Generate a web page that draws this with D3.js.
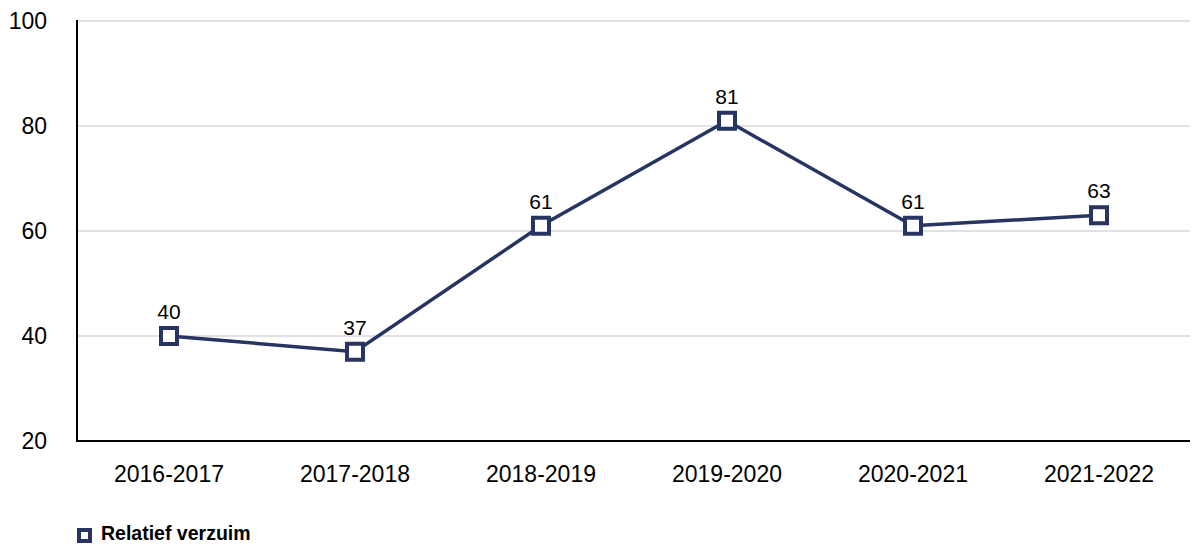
<!DOCTYPE html>
<html><head><meta charset="utf-8">
<script src="https://cdn.jsdelivr.net/npm/d3@7"></script>
<style>body{margin:0;background:#fff}svg{display:block;font-family:"Liberation Sans",Arial,sans-serif}</style>
</head><body><svg id="c" width="1192" height="544"></svg>
<script>
const categories = ["2016-2017","2017-2018","2018-2019","2019-2020","2020-2021","2021-2022"];
const values = [40,37,61,81,61,63];
const yTicks = [20,40,60,80,100];
const seriesName = "Relatief verzuim";

const color = "#283462";
const svg = d3.select("#c");
const x = d3.scaleBand().domain(categories).range([76,1192]).paddingInner(0).paddingOuter(0);
const y = d3.scaleLinear().domain([20,100]).range([441,21]);

// gridlines
svg.append("g").selectAll("line").data(yTicks.filter(d=>d>20)).join("line")
  .attr("x1",77).attr("x2",1190).attr("y1",d=>y(d)).attr("y2",d=>y(d))
  .attr("stroke","#d9d9d9").attr("stroke-width",1.5);

// y tick labels
svg.append("g").selectAll("text").data(yTicks).join("text")
  .attr("x",47).attr("y",d=>y(d)).attr("dy","0.36em").attr("text-anchor","end")
  .attr("font-size",23).attr("fill","#000").text(d=>d);

// axes
svg.append("line").attr("x1",77).attr("x2",77).attr("y1",y(100)-1).attr("y2",y(20)+1).attr("stroke","#000").attr("stroke-width",2);
svg.append("line").attr("x1",76).attr("x2",1190).attr("y1",y(20)).attr("y2",y(20)).attr("stroke","#000").attr("stroke-width",2);

// x labels
svg.append("g").selectAll("text").data(categories).join("text")
  .attr("x",d=>x(d)+x.bandwidth()/2).attr("y",482).attr("text-anchor","middle")
  .attr("font-size",23).attr("fill","#000").text(d=>d);

const data = categories.map((c,i)=>({c,v:values[i]}));
const cx = d=>x(d.c)+x.bandwidth()/2;

svg.append("path").datum(data)
  .attr("d",d3.line().x(cx).y(d=>y(d.v)))
  .attr("fill","none").attr("stroke",color).attr("stroke-width",3.5);

const s=16;
svg.append("g").selectAll("rect").data(data).join("rect")
  .attr("x",d=>cx(d)-s/2).attr("y",d=>y(d.v)-s/2).attr("width",s).attr("height",s)
  .attr("fill","#fff").attr("stroke",color).attr("stroke-width",4);

svg.append("g").selectAll("text").data(data).join("text")
  .attr("x",cx).attr("y",d=>y(d.v)-17).attr("text-anchor","middle")
  .attr("font-size",21).attr("fill","#000").text(d=>d.v);

// legend
const lg = svg.append("g");
lg.append("rect").attr("x",79).attr("y",530).attr("width",11).attr("height",11)
  .attr("fill","#fff").attr("stroke",color).attr("stroke-width",4);
lg.append("text").attr("x",101).attr("y",540).attr("font-size",19.5).attr("font-weight","bold")
  .attr("fill","#000").text(seriesName);
</script></body></html>
